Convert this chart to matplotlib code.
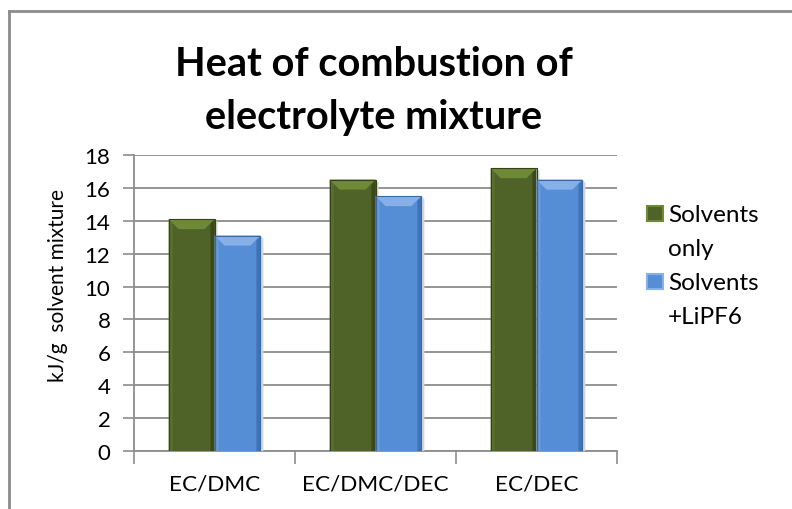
import matplotlib
matplotlib.use("Agg")
import matplotlib.pyplot as plt
from matplotlib.patches import Polygon, Rectangle
from matplotlib.lines import Line2D
import numpy as np

plt.rcParams['font.family'] = ['Lato', 'DejaVu Sans']

categories = ["EC/DMC", "EC/DMC/DEC", "EC/DEC"]
solvents_only = [14.1, 16.5, 17.2]
solvents_lipf6 = [13.1, 15.5, 16.5]
series_labels = ["Solvents\nonly", "Solvents\n+LiPF6"]
y_ticks = list(range(0, 20, 2))

green = dict(face="#4F6228", top="#6F8A36", left="#5A702D", right="#3A481C", edge="#34411A")
blue = dict(face="#558ED5", top="#86B0E8", left="#679BDD", right="#3F73B6", edge="#3968A6")

W, H = 792, 510
fig = plt.figure(figsize=(W / 100, H / 100), dpi=100)
fig.patch.set_facecolor("white")

# Outer frame: only top and left edges show
fig.add_artist(Line2D([8.5 / W, 8.5 / W], [0, 1 - 12 / H], transform=fig.transFigure,
                      color="#8C8C8C", lw=2))
fig.add_artist(Line2D([8.5 / W, 1], [1 - 12 / H, 1 - 12 / H], transform=fig.transFigure,
                      color="#8C8C8C", lw=2))

ax = fig.add_axes([134 / W, 58 / H, (617 - 134) / W, (452 - 156) / H])
x = np.arange(len(categories))
bw = 0.285

ax.set_xlim(-0.5, len(categories) - 0.5)
ax.set_ylim(0, 18)

bars_g = ax.bar(x - bw / 2, solvents_only, bw, color=green["face"], zorder=3)
bars_b = ax.bar(x + bw / 2, solvents_lipf6, bw, color=blue["face"], zorder=3)


def bevel(bar, c, px=10):
    """Add an Excel-style bevel to a bar, sized in pixels."""
    x0, y0 = bar.get_x(), bar.get_y()
    x1, y1 = x0 + bar.get_width(), y0 + bar.get_height()
    to_px = ax.transData.transform
    to_dt = ax.transData.inverted().transform
    (X0, Y0), (X1, Y1) = to_px((x0, y0)), to_px((x1, y1))

    def poly(pts, color, z=4):
        ax.add_patch(Polygon(to_dt(np.array(pts)), closed=True, facecolor=color,
                             edgecolor="none", zorder=z))

    # soft shadow on the right
    poly([(X1, Y0), (X1 + 3, Y0), (X1 + 3, Y1 - 3), (X1, Y1)], "#D4D4D4", z=2.9)
    # left and right side strips
    side = 4
    poly([(X0, Y0), (X0 + side, Y0), (X0 + side, Y1 - side), (X0, Y1)], c["left"])
    poly([(X1, Y0), (X1 - side, Y0), (X1 - side, Y1 - side), (X1, Y1)], c["right"])
    # top face
    poly([(X0, Y1), (X1, Y1), (X1 - px, Y1 - px), (X0 + px, Y1 - px)], c["top"])
    poly([(X0, Y1), (X1, Y1), (X1 - 2, Y1 - 2), (X0 + 2, Y1 - 2)], c["top"], z=4.1)
    # outline
    ax.add_patch(Polygon(to_dt(np.array([(X0, Y0), (X0, Y1), (X1, Y1), (X1, Y0)])),
                         closed=False, fill=False, edgecolor=c["edge"], lw=0.8, zorder=5))


fig.canvas.draw()
for b in bars_g:
    bevel(b, green)
for b in bars_b:
    bevel(b, blue)

ax.set_yticks(y_ticks)
ax.set_yticklabels([str(v) for v in y_ticks])
ax.set_xticks(x)
ax.set_xticklabels(categories)
ax.xaxis.set_minor_locator(matplotlib.ticker.FixedLocator(np.arange(-0.5, len(categories), 1)))
ax.tick_params(axis="x", which="major", length=0, pad=16, labelsize=16.2)
ax.tick_params(axis="x", which="minor", length=9, width=1.2, color="#8C8C8C", direction="out")
ax.tick_params(axis="y", length=8, width=1.2, color="#8C8C8C", direction="out",
               pad=9, labelsize=16)

ax.grid(axis="y", color="#8C8C8C", lw=1.3, zorder=0)
ax.set_axisbelow(True)
for s in ["top", "right"]:
    ax.spines[s].set_visible(False)
for s in ["left", "bottom"]:
    ax.spines[s].set_color("#8C8C8C")
    ax.spines[s].set_linewidth(1.3)

fig.text(58 / W, 1 - 285 / H, "kJ/g  solvent mixture", rotation=90, ha="center",
         va="center", fontsize=15)

fig.text(374 / W, 1 - 64 / H, "Heat of combustion of", ha="center", va="center",
         fontsize=28.6, fontweight="bold")
fig.text(374 / W, 1 - 118 / H, "electrolyte mixture", ha="center", va="center",
         fontsize=28.6, fontweight="bold")

# Legend drawn by hand: square beside the first line, wrapped label below
legend_colors = [green, blue]
first_baselines = [222, 290]
for lab, c, base in zip(series_labels, legend_colors, first_baselines):
    fig.add_artist(Rectangle((647 / W, 1 - base / H), 16 / W, 15 / H,
                             transform=fig.transFigure, facecolor=c["face"],
                             edgecolor=c["top"], lw=1.5))
    for i, line in enumerate(lab.split("\n")):
        fig.text(668 / W, 1 - (base + 34 * i) / H, line, ha="left", va="baseline",
                 fontsize=17.5)

fig.savefig("out.png", dpi=100, facecolor="white")
